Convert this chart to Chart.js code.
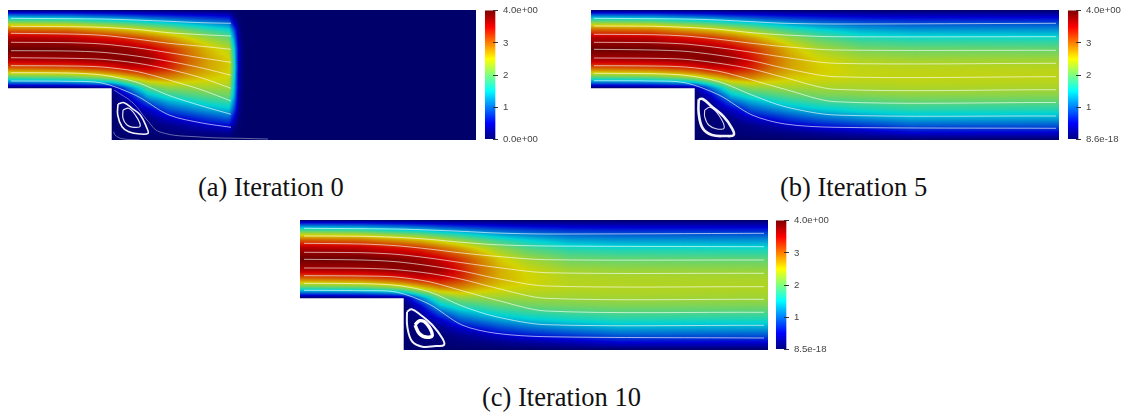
<!DOCTYPE html>
<html><head><meta charset="utf-8">
<script src="https://cdn.jsdelivr.net/npm/chart.js@4"></script>
<style>
html,body{margin:0;padding:0;background:#fff}
#page{position:relative;width:1132px;height:417px;overflow:hidden;background:#fff}
canvas{position:absolute;display:block}
.soft{filter:blur(.45px)}
.cap{position:absolute;font-family:"Liberation Serif",serif;font-size:26.5px;line-height:30px;color:#111;white-space:nowrap}
</style></head><body><div id="page"></div>
<script>
// Shared row positions of the velocity profiles (distance from the top wall)
const yStations=[0,5,10,15,20,28,39,50,58,63,68,73,78,85,92,100,108,116,123,130];
// Domain outline
const domainOutlineX=[0,468,468,103.7,103.7,0];
const domainOutlineY=[0,0,130,130,78.3,78.3];

// Panel (a) Iteration 0: profiles per column
const xStationsA=[0,60,90,104,120,140,160,180,200,221,226,231,236,468];
const fieldA=[
[0,.96,1.79,2.49,3.05,3.68,4,3.68,3.05,2.49,1.79,.96,0,0,0,0,0,0,0,0],
[0,.92,1.72,2.42,2.98,3.62,3.98,3.72,3.12,2.56,1.88,1.04,.05,0,0,0,0,0,0,0],
[0,.82,1.55,2.22,2.8,3.45,3.92,3.8,3.25,2.72,2.05,1.2,.1,0,0,0,0,0,0,0],
[0,.78,1.5,2.15,2.72,3.38,3.88,3.84,3.35,2.85,2.2,1.35,.2,.02,.02,.02,.02,.02,.02,0],
[0,.72,1.42,2.05,2.6,3.28,3.8,3.9,3.5,3.05,2.5,1.8,1.05,.5,.2,.08,.05,.05,.05,0],
[0,.63,1.28,1.88,2.42,3.05,3.62,3.8,3.55,3.25,2.85,2.35,1.9,1.4,.9,.4,.14,.06,.06,0],
[0,.58,1.15,1.72,2.2,2.8,3.3,3.45,3.35,3.1,2.85,2.5,2.15,1.72,1.28,.85,.42,.14,.08,0],
[0,.52,1.02,1.52,1.98,2.5,2.95,3.05,2.98,2.85,2.68,2.45,2.2,1.85,1.48,1.05,.6,.25,.1,0],
[0,.47,.92,1.35,1.75,2.22,2.62,2.74,2.72,2.66,2.55,2.42,2.25,1.98,1.65,1.25,.8,.4,.14,0],
[0,.4,.8,1.18,1.55,1.98,2.37,2.53,2.54,2.52,2.46,2.38,2.24,2.03,1.75,1.38,.95,.5,.18,0],
[0,.1,.25,.55,.9,1.2,1.55,1.65,1.7,1.65,1.6,1.5,1.45,1.35,1.1,.85,.5,.2,.05,0],
[0,.02,.05,.08,.15,.2,.35,.3,.35,.25,.3,.25,.3,.2,.2,.15,.08,.03,.01,0],
[0,0,0,0,0,0,0,0,0,0,0,0,0,0,0,0,0,0,0,0],
[0,0,0,0,0,0,0,0,0,0,0,0,0,0,0,0,0,0,0,0]];

// Panel (b) Iteration 5
const xStationsB=[0,60,90,104,120,140,160,180,200,228,270,320,468];
const fieldB=[
[0,.96,1.79,2.49,3.05,3.68,4,3.68,3.05,2.49,1.79,.96,0,0,0,0,0,0,0,0],
[0,.92,1.72,2.42,2.98,3.62,3.98,3.72,3.12,2.56,1.88,1.04,.05,0,0,0,0,0,0,0],
[0,.82,1.55,2.22,2.8,3.45,3.92,3.8,3.25,2.72,2.05,1.2,.1,0,0,0,0,0,0,0],
[0,.78,1.5,2.15,2.72,3.38,3.88,3.84,3.35,2.85,2.2,1.35,.2,.02,.02,.02,.02,.02,.02,0],
[0,.72,1.42,2.05,2.6,3.28,3.8,3.9,3.5,3.05,2.5,1.8,1.05,.5,.2,.08,.05,.05,.05,0],
[0,.63,1.28,1.88,2.42,3.05,3.62,3.8,3.55,3.25,2.85,2.35,1.9,1.4,.9,.4,.14,.06,.06,0],
[0,.58,1.15,1.72,2.2,2.8,3.3,3.45,3.35,3.1,2.85,2.5,2.15,1.72,1.28,.85,.42,.14,.08,0],
[0,.52,1.02,1.52,1.98,2.5,2.95,3.05,2.98,2.85,2.68,2.45,2.2,1.85,1.48,1.05,.6,.25,.1,0],
[0,.47,.92,1.35,1.75,2.22,2.62,2.74,2.72,2.66,2.55,2.42,2.25,1.98,1.65,1.25,.8,.4,.14,0],
[0,.42,.82,1.18,1.52,1.92,2.3,2.5,2.54,2.53,2.48,2.4,2.27,2.07,1.79,1.42,1,.55,.22,0],
[0,.37,.72,1.03,1.3,1.67,2.06,2.32,2.4,2.42,2.41,2.36,2.28,2.12,1.88,1.57,1.18,.72,.32,0],
[0,.35,.67,.96,1.22,1.6,2,2.27,2.38,2.41,2.41,2.38,2.31,2.17,1.96,1.67,1.33,.9,.48,0],
[0,.34,.66,.95,1.2,1.58,1.98,2.25,2.36,2.39,2.39,2.36,2.29,2.15,1.94,1.65,1.3,.88,.46,0]];

// Panel (c) Iteration 10
const xStationsC=[0,60,90,104,120,140,160,180,200,228,270,320,468];
const fieldC=[
[0,.96,1.79,2.49,3.05,3.68,4,3.68,3.05,2.49,1.79,.96,0,0,0,0,0,0,0,0],
[0,.92,1.72,2.42,2.98,3.62,3.98,3.72,3.12,2.56,1.88,1.04,.05,0,0,0,0,0,0,0],
[0,.82,1.55,2.22,2.8,3.45,3.92,3.8,3.25,2.72,2.05,1.2,.1,0,0,0,0,0,0,0],
[0,.78,1.5,2.15,2.72,3.38,3.88,3.84,3.35,2.85,2.2,1.38,.22,.02,.02,.02,.02,.02,.02,0],
[0,.72,1.42,2.05,2.6,3.26,3.78,3.88,3.5,3.06,2.52,1.85,1.1,.55,.22,.08,.05,.05,.05,0],
[0,.63,1.26,1.85,2.38,3,3.56,3.76,3.54,3.24,2.85,2.38,1.92,1.45,.95,.44,.15,.06,.06,0],
[0,.57,1.12,1.68,2.15,2.74,3.24,3.4,3.32,3.08,2.85,2.52,2.16,1.76,1.32,.88,.45,.15,.08,0],
[0,.5,1,1.48,1.92,2.44,2.88,3,2.95,2.83,2.66,2.44,2.2,1.86,1.5,1.08,.62,.26,.1,0],
[0,.45,.9,1.3,1.7,2.16,2.54,2.68,2.67,2.62,2.52,2.4,2.23,1.97,1.65,1.26,.82,.41,.15,0],
[0,.4,.8,1.14,1.48,1.86,2.26,2.46,2.5,2.49,2.44,2.36,2.24,2.04,1.77,1.42,1,.56,.22,0],
[0,.36,.7,1,1.26,1.63,2,2.26,2.34,2.36,2.36,2.32,2.24,2.09,1.85,1.55,1.17,.72,.32,0],
[0,.34,.66,.94,1.2,1.57,1.96,2.22,2.32,2.34,2.34,2.32,2.26,2.12,1.91,1.64,1.3,.88,.47,0],
[0,.33,.65,.93,1.18,1.55,1.94,2.19,2.29,2.32,2.32,2.3,2.24,2.1,1.89,1.61,1.27,.86,.45,0]];

// Streamlines: x stations and y per line
const streamXA=[3,61,94,128,161,194,223];
const streamsA=[
[8.3,8.7,9,10,11.3,12.7,13.3],
[16.3,16.7,17.3,19.3,22.7,24.7,26],
[23.3,24,25.3,29,33.3,36.3,39.3],
[32.3,32.7,34,37.7,42.7,48,52.3],
[40.7,41,42.3,46,51.3,58,65.3],
[47.7,48.3,49.3,53,59.3,68,78.3],
[55.7,56,57,61.3,70,80,91],
[62.7,63,65,72,85.5,96,104.3],
[71,71.3,73,85.5,105,113,117.3]];
const streamXB=[3,61,94,128,161,194,244,465];
const streamsB=[
[8.3,8.7,9,10,11.7,13.3,14,13.3],
[16,16.3,17.3,19.3,22.7,25,26.7,26.7],
[24.3,24.7,26,29.3,33.3,36.7,40,40.3],
[32.3,32.7,34,37.7,42.3,47.3,53.3,53.3],
[39.3,40,41.3,45.3,50.7,58.3,66.7,66.7],
[48,48.3,49.3,53.3,59,67.7,79.3,79.7],
[55.7,56,57,61.3,70,79.3,91.7,92.5],
[63.3,63.7,65.3,71.7,85,96.7,105,106],
[70.7,71,72.7,85,105,114,117.3,118.3]];
const streamXC=[4,62,96,129,162,196,246,464];
const streamsC=[
[8.3,8.7,9,10,11.3,13,14,13.3],
[16,16.3,17.3,19.3,22.3,24.7,26,26.7],
[23.3,24,25.7,29,33,36.3,39.7,40],
[32.3,32.7,34.3,38,42.7,47.3,52.7,53.3],
[39.3,40,41.7,45.7,51,58.3,66,66.7],
[48,48.3,49.7,53.3,59.3,68,78.3,79.3],
[55.7,56,57,61.7,70.7,80,91,92.3],
[63.3,63.7,65.3,71.7,86,96.7,104.7,105.3],
[70.3,70.7,72,84,105,113.3,116.7,118]];

// Recirculation loops and wall-hugging lines
const outerXA=[110,116,124,132.3,139,140,132.3,120.7,114,109.7,110];
const outerYA=[94,92.7,98.3,105,118.3,123.3,124,121.7,116.7,105,94];
const innerXA=[115,120.7,127.3,132.3,125.7,119,115,115];
const innerYA=[100,98.3,105,116,117.3,115,108.3,100];
const wallXA=[106,125,139,152,192,240,260];
const wallYA=[80,93,110,122,127,128.5,129];
const cornerXA=[105.7,107,114,132];
const cornerYA=[121.7,125,128.7,130];
const outerXB=[107.7,111.7,121,132.7,141,142.7,134.3,121,111.7,107.7,107.7];
const outerYB=[89.3,89,96.7,106.7,118.3,125,126,125,118.3,103.3,89.3];
const innerXB=[113.7,119.3,127.7,133.3,126,117.7,113.7,113.7];
const innerYB=[100,97.3,105,117.7,119,115,106.7,100];
const outerXC=[107,111.7,120.7,132.3,142.3,144,135.7,122.3,112.3,107.3,107];
const outerYC=[91.7,89.3,95,105,118.3,125,126,126.7,121.7,106.7,91.7];
const innerXC=[115,119.7,126.3,132.3,127.3,119.7,115];
const innerYC=[105,100.7,103.3,115,117.3,114,105];

// Colour bar
const colorbarStops=[0,.125,.375,.625,.875,1];
const colorbarColors=['#00007f','#0000ff','#00ffff','#ffff00','#ff0000','#7f0000'];
const tickValues=[0,1,2,3,4];
const tickLabelsA=['0.0e+00','1','2','3','4.0e+00'];
const tickLabelsB=['8.6e-18','1','2','3','4.0e+00'];
const tickLabelsC=['8.5e-18','1','2','3','4.0e+00'];

const captions=[['(a) Iteration 0',198,172],['(b) Iteration 5',780,172],['(c) Iteration 10',482,382]];
const fieldShade=.83;

const page=document.getElementById('page');
function mk(left,top,w,h,cls){const c=document.createElement('canvas');c.width=w;c.height=h;
 c.style.left=left+'px';c.style.top=top+'px';c.style.width=w+'px';c.style.height=h+'px';if(cls)c.className=cls;page.appendChild(c);return c;}
const cl=v=>Math.max(0,Math.min(1,v));
function jet(v){const t=v/4;return[255*cl(Math.min(4*t-1.5,-4*t+4.5)),255*cl(Math.min(4*t-.5,-4*t+3.5)),255*cl(Math.min(4*t+.5,-4*t+2.5))];}

// Paints the first dataset (grid nodes with a value v) as a continuous field, placed by the chart's scales.
const fieldPlugin={id:'fieldPlugin',beforeDatasetsDraw(chart){
 const ds=chart.data.datasets[0],sx=chart.scales.x,sy=chart.scales.y,a=chart.chartArea;
 const nx=ds.nx,ny=ds.ny,V=(i,j)=>ds.data[i*ny+j].v;
 const px=[...Array(nx).keys()].map(i=>sx.getPixelForValue(ds.data[i*ny].x));
 const py=[...Array(ny).keys()].map(j=>sy.getPixelForValue(ds.data[j].y));
 const W=Math.round(a.right-a.left),H=Math.round(a.bottom-a.top);
 const off=document.createElement('canvas');off.width=W;off.height=H;const oc=off.getContext('2d');const im=oc.createImageData(W,H);
 for(let Y=0;Y<H;Y++){const yy=a.top+Y+.5;let j=0;while(j<ny-2&&py[j+1]<yy)j++;const f=cl((yy-py[j])/(py[j+1]-py[j]));
  let i=0;for(let X=0;X<W;X++){const xx=a.left+X+.5;while(i<nx-2&&px[i+1]<xx)i++;const g=cl((xx-px[i])/(px[i+1]-px[i]));
   const v=(1-g)*((1-f)*V(i,j)+f*V(i,j+1))+g*((1-f)*V(i+1,j)+f*V(i+1,j+1));
   const c=jet(v),k=(Y*W+X)*4;im.data[k]=c[0]*fieldShade;im.data[k+1]=c[1]*fieldShade;im.data[k+2]=c[2]*fieldShade;im.data[k+3]=255;}}
 oc.putImageData(im,0,0);
 const g=chart.ctx;g.save();g.beginPath();
 domainOutlineX.forEach((x,n)=>{const X=sx.getPixelForValue(x),Y=sy.getPixelForValue(domainOutlineY[n]);n?g.lineTo(X,Y):g.moveTo(X,Y);});
 g.closePath();g.clip();g.drawImage(off,a.left,a.top);g.restore();
}};

const zip=(xs,ys)=>xs.map((x,i)=>({x,y:ys[i]}));
const lineDs=(xs,ys,w,alpha,tension)=>({data:zip(xs,ys),showLine:true,pointRadius:0,borderColor:`rgba(255,255,255,${alpha})`,borderWidth:w,tension,fill:false});

function panel(left,top,xSt,field,streamX,streams,extra){
 const nodes=[];xSt.forEach((x,i)=>yStations.forEach((y,j)=>nodes.push({x,y,v:field[i][j]})));
 const sets=[{data:nodes,nx:xSt.length,ny:yStations.length,pointRadius:0,showLine:false}];
 streams.forEach(s=>sets.push(lineDs(streamX,s,1,.62,.3)));
 extra.forEach(e=>sets.push(lineDs(e[0],e[1],e[2],e[3],.4)));
 new Chart(mk(left,top,468,130,'soft'),{type:'scatter',data:{datasets:sets},plugins:[fieldPlugin],options:{
  responsive:false,animation:false,devicePixelRatio:1,layout:{padding:0},
  plugins:{legend:{display:false},tooltip:{enabled:false}},
  scales:{x:{type:'linear',min:0,max:468,display:false},y:{type:'linear',min:0,max:130,reverse:true,display:false}}}});
}
function colorbar(left,top,labels){
 new Chart(mk(left,top,72,150,'soft'),{type:'bar',data:{labels:['u'],datasets:[{data:[[0,4]],barThickness:9.7,clip:false,
   backgroundColor(c){const a=c.chart.chartArea;if(!a)return '#000';const g=c.chart.ctx.createLinearGradient(0,a.bottom,0,a.top);
     colorbarStops.forEach((s,i)=>g.addColorStop(s,colorbarColors[i]));return g;}}]},
  options:{responsive:false,animation:false,devicePixelRatio:1,
  layout:{padding:{left:9.6,right:0,top:10.5,bottom:9.3}},
  plugins:{legend:{display:false},tooltip:{enabled:false}},
  scales:{x:{display:false,grid:{display:false}},
   y:{position:'right',min:0,max:4,
    afterFit(s){s.width=57.3;},
    afterBuildTicks(s){s.ticks=tickValues.map(value=>({value}));},
    border:{display:false},
    grid:{drawOnChartArea:false,drawTicks:true,tickLength:5.3,color:'#333',lineWidth:1,z:1},
    ticks:{autoSkip:false,padding:5,color:'#444',font:{family:'"Liberation Sans",sans-serif',size:9.6},
     callback(v){return labels[tickValues.indexOf(v)];}}}}}});
}

panel(8,10,xStationsA,fieldA,streamXA,streamsA,[[outerXA,outerYA,1.6,.95],[innerXA,innerYA,1.2,.9],[wallXA,wallYA,.8,.5],[cornerXA,cornerYA,.8,.5]]);
panel(591,10,xStationsB,fieldB,streamXB,streamsB,[[outerXB,outerYB,2.6,.95],[innerXB,innerYB,1.1,.85]]);
panel(300,220,xStationsC,fieldC,streamXC,streamsC,[[outerXC,outerYC,2,.95],[innerXC,innerYC,3.4,1]]);
colorbar(478,0,tickLabelsA);
colorbar(1061,0,tickLabelsB);
colorbar(769.4,210,tickLabelsC);
captions.forEach(c=>{const d=document.createElement('div');d.className='cap';d.textContent=c[0];d.style.left=c[1]+'px';d.style.top=c[2]+'px';page.appendChild(d);});
</script></body></html>
